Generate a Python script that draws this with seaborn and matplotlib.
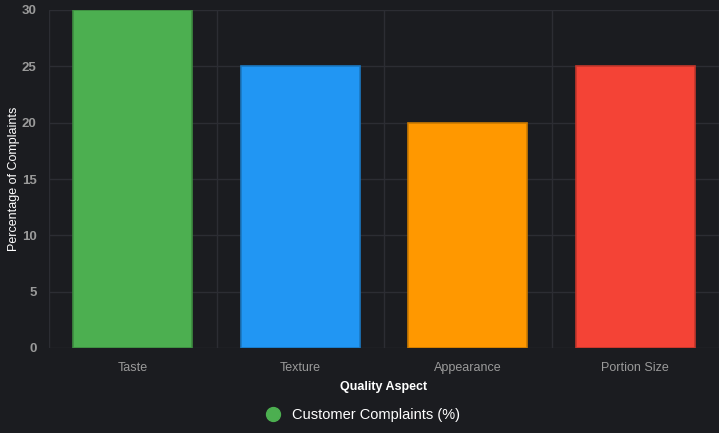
import matplotlib
matplotlib.use("Agg")
import matplotlib.pyplot as plt
from matplotlib.lines import Line2D
from matplotlib.ticker import FixedLocator
import seaborn as sns
import pandas as pd

# Chart data
aspects = ["Taste", "Texture", "Appearance", "Portion Size"]
complaints = [30, 25, 20, 25]
bar_colors = ["#4caf50", "#2196f3", "#ff9800", "#f44336"]
edge_colors = ["#3d8c40", "#1a78c2", "#cc7a00", "#c3362b"]

df = pd.DataFrame({"aspect": aspects, "complaints": complaints})

bg = "#1b1c20"
grid_c = "#2c2d33"
tick_c = "#9a9a9a"

sns.set_style("dark")
plt.rcParams["font.family"] = ["Liberation Sans", "DejaVu Sans"]

fig = plt.figure(figsize=(7.19, 4.33), dpi=100, facecolor=bg)
ax = fig.add_axes([49 / 719, 85 / 433, 670 / 719, 338 / 433])
ax.set_facecolor(bg)

sns.barplot(data=df, x="aspect", y="complaints", hue="aspect",
            palette=bar_colors, saturation=1, width=0.71, legend=False,
            ax=ax, zorder=3)
for patch, ec in zip(ax.patches, edge_colors):
    patch.set_edgecolor(ec)
    patch.set_linewidth(1.2)

ax.set_xlim(-0.5, 3.5)
ax.set_ylim(0, 30)
ax.set_yticks(range(0, 31, 5))
ax.xaxis.set_minor_locator(FixedLocator([-0.5, 0.5, 1.5, 2.5, 3.5]))

ax.grid(False)
ax.grid(True, axis="y", which="major", color=grid_c, linewidth=1, zorder=0)
ax.grid(True, axis="x", which="minor", color=grid_c, linewidth=1, zorder=0)

ax.tick_params(axis="x", which="major", length=0, colors=tick_c, labelsize=9, pad=10)
ax.tick_params(axis="x", which="minor", length=8, color=grid_c, width=1)
ax.tick_params(axis="y", length=7, color=grid_c, width=1, labelcolor=tick_c,
               labelsize=9.5, pad=2)
for lab in ax.get_yticklabels():
    lab.set_fontweight("bold")

for s in ax.spines.values():
    s.set_visible(False)

ax.set_xlabel("Quality Aspect", color="white", fontsize=9, fontweight="bold", labelpad=5)
ax.set_ylabel("Percentage of Complaints", color="white", fontsize=9, labelpad=1)

handle = Line2D([], [], marker="o", linestyle="none", markersize=10,
                markerfacecolor=bar_colors[0], markeredgecolor=bar_colors[0])
leg = fig.legend([handle], ["Customer Complaints (%)"], loc="center",
                 bbox_to_anchor=(0.5, 1 - 415 / 433), frameon=False,
                 fontsize=10.5, handletextpad=0.3)
for t in leg.get_texts():
    t.set_color("white")

fig.savefig("out.png", dpi=100, facecolor=bg)
